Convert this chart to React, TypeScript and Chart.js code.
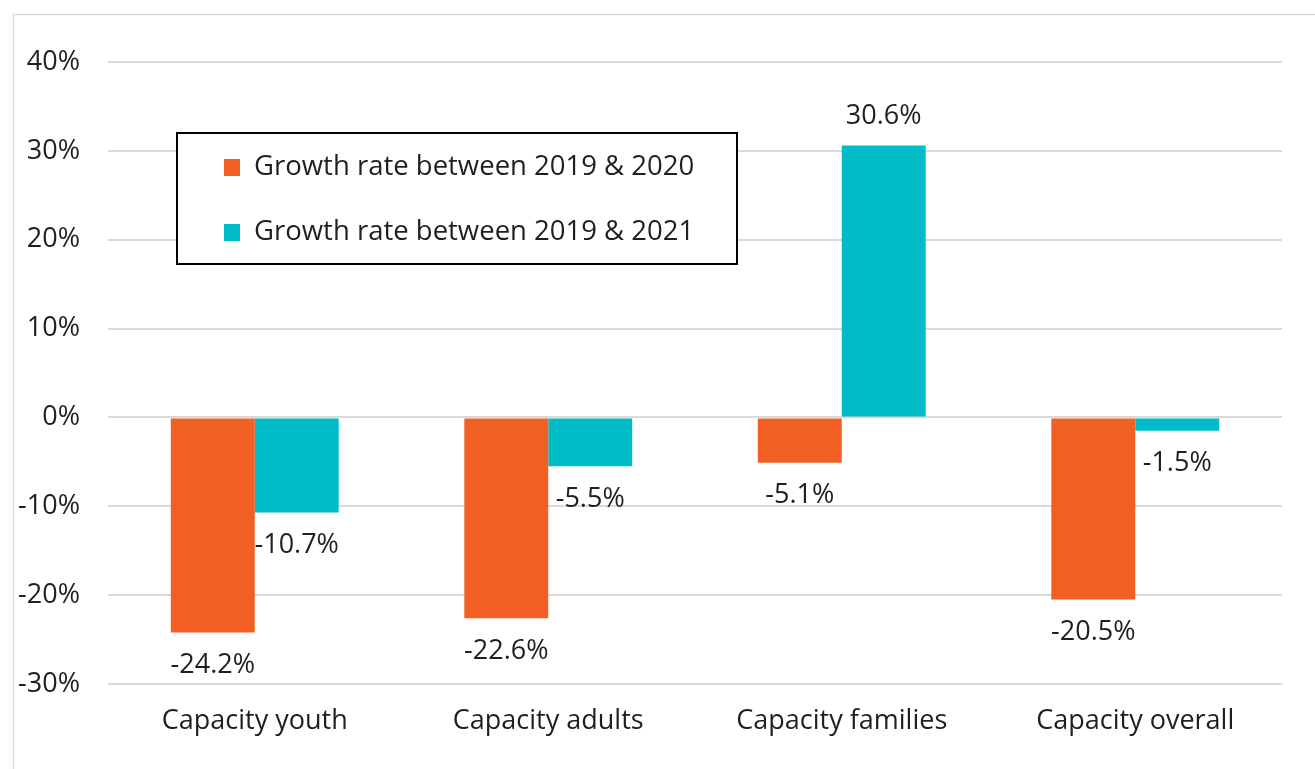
import React, { useEffect, useRef } from "react";
import { Chart, registerables } from "chart.js";

Chart.register(...registerables);

const categories = ["Capacity youth", "Capacity adults", "Capacity families", "Capacity overall"];
const seriesNames = ["Growth rate between 2019 & 2020", "Growth rate between 2019 & 2021"];
const growth2020 = [-24.2, -22.6, -5.1, -20.5];
const growth2021 = [-10.7, -5.5, 30.6, -1.5];
const colors = ["#F16022", "#00BCC6"];
const yMin = -30;
const yMax = 40;
const yStep = 10;

const FONT = "'Open Sans', 'Noto Sans', sans-serif";
const TEXT = "#1f1f1f";

const framePlugin = {
  id: "frame",
  beforeDraw(chart: any) {
    const ctx = chart.ctx;
    ctx.save();
    ctx.fillStyle = "#ffffff";
    ctx.fillRect(0, 0, chart.width, chart.height);
    ctx.strokeStyle = "#D9D9D9";
    ctx.lineWidth = 1.5;
    ctx.strokeRect(13.5, 14.5, chart.width + 20, chart.height + 20);
    ctx.restore();
  },
};

const labelPlugin = {
  id: "valueLabels",
  afterDatasetsDraw(chart: any) {
    const ctx = chart.ctx;
    ctx.save();
    ctx.font = `27px ${FONT}`;
    ctx.fillStyle = TEXT;
    ctx.textAlign = "center";
    ctx.textBaseline = "middle";
    chart.data.datasets.forEach((ds: any, di: number) => {
      const meta = chart.getDatasetMeta(di);
      meta.data.forEach((el: any, i: number) => {
        const v = ds.data[i];
        const y = v < 0 ? el.y + 33 : el.y - 29;
        ctx.fillText(`${v.toFixed(1)}%`, el.x, y);
      });
    });
    ctx.restore();
  },
};

const legendPlugin = {
  id: "boxLegend",
  afterDraw(chart: any) {
    const ctx = chart.ctx;
    const bx = 177, by = 133, bw = 560, bh = 131;
    ctx.save();
    ctx.fillStyle = "#ffffff";
    ctx.fillRect(bx, by, bw, bh);
    ctx.strokeStyle = "#000000";
    ctx.lineWidth = 2;
    ctx.strokeRect(bx, by, bw, bh);
    ctx.font = `27.5px ${FONT}`;
    ctx.textBaseline = "middle";
    ctx.textAlign = "left";
    chart.data.datasets.forEach((ds: any, i: number) => {
      const cy = 167 + i * 65;
      ctx.fillStyle = ds.backgroundColor;
      ctx.fillRect(224, cy - 8, 16, 17);
      ctx.fillStyle = TEXT;
      ctx.fillText(ds.label, 254, cy);
    });
    ctx.restore();
  },
};

export default function App() {
  const ref = useRef<HTMLCanvasElement>(null);
  useEffect(() => {
    if (!ref.current) return;
    const chart = new Chart(ref.current, {
      type: "bar",
      data: {
        labels: categories,
        datasets: [
          { label: seriesNames[0], data: growth2020, backgroundColor: colors[0], borderWidth: 0 },
          { label: seriesNames[1], data: growth2021, backgroundColor: colors[1], borderWidth: 0 },
        ],
      },
      options: {
        animation: false,
        responsive: false,
        layout: { padding: { left: 0, right: 33, top: 62, bottom: 0 } },
        datasets: { bar: { categoryPercentage: 0.572, barPercentage: 1 } },
        plugins: { legend: { display: false }, tooltip: { enabled: false } },
        scales: {
          x: {
            grid: { display: false, drawTicks: false },
            border: { display: false },
            ticks: { font: { family: FONT, size: 27 }, color: TEXT, padding: 21, maxRotation: 0 },
            afterFit: (s: any) => { s.height = 85; },
          },
          y: {
            min: yMin,
            max: yMax,
            grid: { color: "#D9D9D9", lineWidth: 2, drawTicks: false },
            border: { display: false },
            ticks: {
              stepSize: yStep,
              font: { family: FONT, size: 27 },
              color: TEXT,
              padding: 28,
              callback: (v: any) => `${v}%`,
            },
            afterFit: (s: any) => { s.width = 108; },
          },
        },
      },
      plugins: [framePlugin, labelPlugin, legendPlugin],
    });
    return () => chart.destroy();
  }, []);
  return (
    <div style={{ position: "absolute", left: 0, top: 0, width: 1315, height: 769 }}>
      <canvas ref={ref} width={1315} height={769} style={{ display: "block" }} />
    </div>
  );
}
